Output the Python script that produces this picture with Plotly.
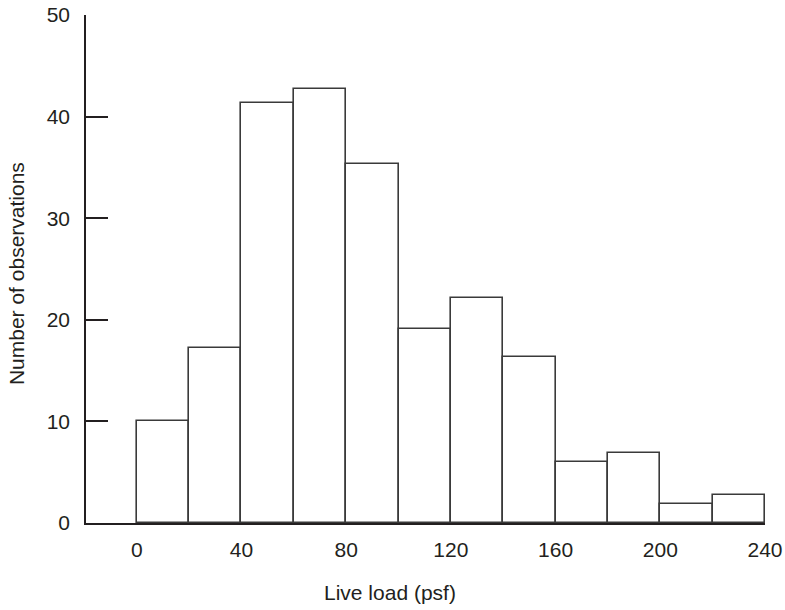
import plotly.graph_objects as go

bin_centers = [10, 30, 50, 70, 90, 110, 130, 150, 170, 190, 210, 230]
counts = [10.0, 17.2, 41.3, 42.7, 35.3, 19.1, 22.1, 16.3, 6.0, 6.9, 1.9, 2.8]
x_ticks = [0, 40, 80, 120, 160, 200, 240]
y_ticks = [0, 10, 20, 30, 40, 50]

ink = "#231f20"
font = dict(family="Liberation Sans, Arial, sans-serif", size=21, color=ink)

fig = go.Figure(go.Bar(
    x=bin_centers, y=counts, width=20,
    marker=dict(color="white", line=dict(color="#3a3a3a", width=1.6)),
))

fig.update_layout(
    width=785, height=610,
    margin=dict(l=86, r=20, t=15, b=87),
    paper_bgcolor="white", plot_bgcolor="white",
    font=font, showlegend=False, bargap=0,
    xaxis=dict(range=[-19.4, 240], tickvals=x_ticks, ticks="", showgrid=False,
               zeroline=False, showline=True, linecolor=ink, linewidth=1.5,
               ticklabelstandoff=7, automargin=False),
    yaxis=dict(range=[0, 50], tickvals=y_ticks, ticks="inside", ticklen=22,
               tickwidth=1.5, tickcolor=ink, showgrid=False, zeroline=False,
               showline=True, linecolor=ink, linewidth=1.5, ticklabelstandoff=10,
               automargin=False),
    annotations=[
        dict(text="Live load (psf)", xref="paper", yref="paper", x=0.448, y=0,
             yshift=-69, showarrow=False, xanchor="center", yanchor="middle", font=font),
        dict(text="Number of observations", xref="paper", yref="paper", x=0, y=0.49,
             xshift=-70, showarrow=False, textangle=-90, xanchor="center",
             yanchor="middle", font=font),
    ],
)

fig.write_html("out.html", config={"displayModeBar": False},
               post_script="document.body.style.margin='0px';")
